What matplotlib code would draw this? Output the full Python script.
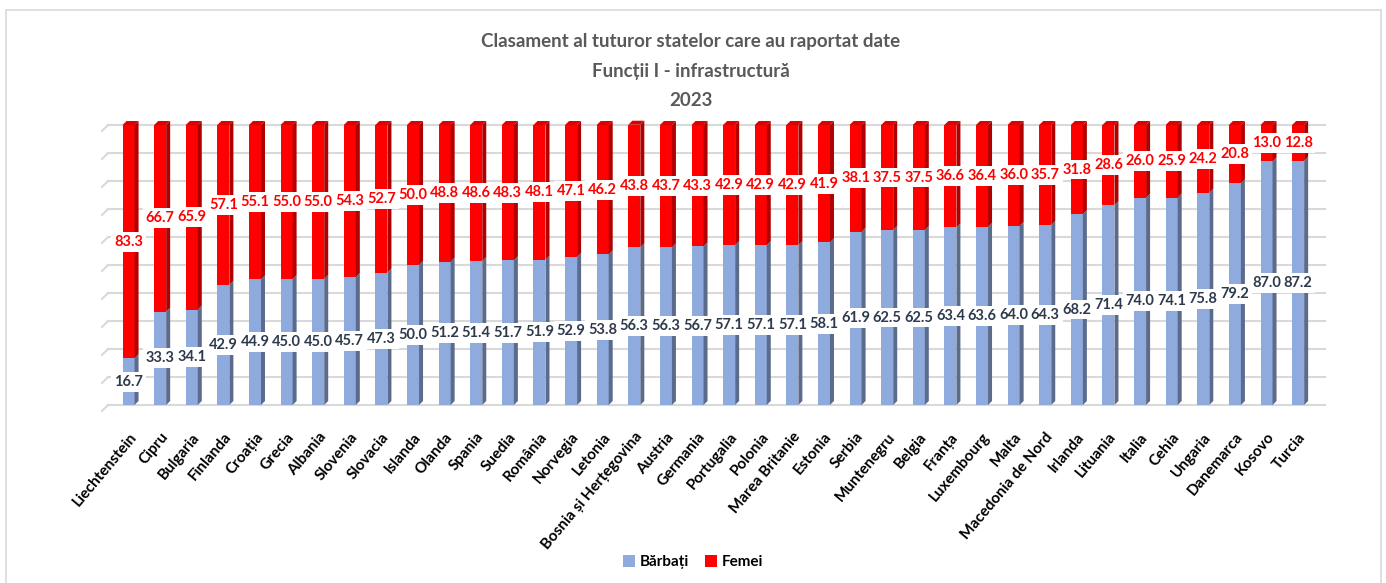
import numpy as np
import matplotlib
matplotlib.use("Agg")
import matplotlib.pyplot as plt
from matplotlib.patches import Polygon, Patch, Rectangle

plt.rcParams["font.family"] = ["Lato", "DejaVu Sans"]

countries = ["Liechtenstein", "Cipru", "Bulgaria", "Finlanda", "Croația", "Grecia", "Albania",
             "Slovenia", "Slovacia", "Islanda", "Olanda", "Spania", "Suedia", "România",
             "Norvegia", "Letonia", "Bosnia și Herțegovina", "Austria", "Germania", "Portugalia",
             "Polonia", "Marea Britanie", "Estonia", "Serbia", "Muntenegru", "Belgia", "Franța",
             "Luxembourg", "Malta", "Macedonia de Nord", "Irlanda", "Lituania", "Italia", "Cehia",
             "Ungaria", "Danemarca", "Kosovo", "Turcia"]
barbati = [16.7, 33.3, 34.1, 42.9, 44.9, 45.0, 45.0, 45.7, 47.3, 50.0,
           51.2, 51.4, 51.7, 51.9, 52.9, 53.8, 56.3, 56.3, 56.7, 57.1,
           57.1, 57.1, 58.1, 61.9, 62.5, 62.5, 63.4, 63.6, 64.0, 64.3,
           68.2, 71.4, 74.0, 74.1, 75.8, 79.2, 87.0, 87.2]
femei = [83.3, 66.7, 65.9, 57.1, 55.1, 55.0, 55.0, 54.3, 52.7, 50.0,
         48.8, 48.6, 48.3, 48.1, 47.1, 46.2, 43.8, 43.7, 43.3, 42.9,
         42.9, 42.9, 41.9, 38.1, 37.5, 37.5, 36.6, 36.4, 36.0, 35.7,
         31.8, 28.6, 26.0, 25.9, 24.2, 20.8, 13.0, 12.8]

BLUE, BLUE_SIDE = "#8faadc", "#5b6b8c"
RED, RED_SIDE, RED_TOP = "#ff0000", "#b00000", "#e00000"
NAVY = "#2e3a4c"
GRID = "#d9d9d9"

W, H = 1386, 583
fig = plt.figure(figsize=(W / 100, H / 100), dpi=100)
fig.patch.set_facecolor("white")
# chart border
fig.patches.append(Rectangle((6 / W, -0.01), (1381 - 6) / W, (583 - 10) / H + 0.01,
                             transform=fig.transFigure, fill=False, ec=GRID, lw=1.2))

ax_l, ax_r, ax_b, ax_t = 108, 1325, 405, 125
ax = fig.add_axes([ax_l / W, 1 - ax_b / H, (ax_r - ax_l) / W, (ax_b - ax_t) / H])
x = np.arange(len(countries))
ax.set_xlim(-0.65, 37.85)
ax.set_ylim(0, 100)
for s in ax.spines.values():
    s.set_visible(False)

# 3d-ish depth offsets (data units)
px_x = (37.85 + 0.65) / (ax_r - ax_l)
px_y = 100 / (ax_b - ax_t)
dx, dy = 4 * px_x, 4 * px_y
w = 0.38

# grid with slanted left stubs
for g in range(0, 101, 10):
    ax.plot([-0.65, 37.85], [g, g], color=GRID, lw=1.5, zorder=0, clip_on=False)
    ax.plot([-0.65, -0.65 - 6 * px_x], [g, g - 6 * px_y], color=GRID, lw=1.5,
            zorder=0, clip_on=False)

b = np.array(barbati)
f = np.array(femei)
ax.bar(x, b, width=w, color=BLUE, zorder=2, clip_on=False)
ax.bar(x, f, bottom=b, width=w, color=RED, zorder=2, clip_on=False)


def side(xc, lo, hi, col):
    r = xc + w / 2
    ax.add_patch(Polygon([(r, lo), (r + dx, lo + dy), (r + dx, hi + dy), (r, hi)],
                         closed=True, fc=col, ec="none", zorder=2, clip_on=False))


for i in x:
    side(i, 0, b[i], BLUE_SIDE)
    side(i, b[i], b[i] + f[i], RED_SIDE)
    t = b[i] + f[i]
    ax.add_patch(Polygon([(i - w / 2, t), (i + w / 2, t), (i + w / 2 + dx, t + dy),
                          (i - w / 2 + dx, t + dy)], closed=True, fc=RED_TOP, ec="none",
                         zorder=2, clip_on=False))
    ax.text(i, b[i] / 2, f"{b[i]:.1f}", ha="center", va="center", fontsize=10.5,
            weight="bold", color=NAVY, zorder=5,
            bbox=dict(boxstyle="square,pad=0.2", fc="white", ec="none"))
    ax.text(i, b[i] + f[i] / 2, f"{f[i]:.1f}", ha="center", va="center", fontsize=10.5,
            weight="bold", color=RED, zorder=5,
            bbox=dict(boxstyle="square,pad=0.2", fc="white", ec="none"))

ax.set_yticks([])
ax.set_xticks(x)
ax.set_xticklabels(countries, rotation=50, ha="right", rotation_mode="anchor",
                   fontsize=11, weight="bold", color="black")
ax.tick_params(axis="x", length=0, pad=18)

title_lines = ["Clasament al tuturor statelor care au raportat date",
               "Funcții I - infrastructură", "2023"]
for k, line in enumerate(title_lines):
    fig.text(691 / W, 1 - (42 + 29.5 * k) / H, line, ha="center", va="center",
             fontsize=13.5, weight="bold", color="#595959")

handles = [Patch(fc=BLUE, ec="none", label="Bărbați"), Patch(fc=RED, ec="none", label="Femei")]
fig.legend(handles=handles, loc="center", bbox_to_anchor=(693 / W, 1 - 562 / H), ncol=2,
           frameon=False, handlelength=0.8, handleheight=0.8, handletextpad=0.3,
           columnspacing=1.0, prop=dict(size=11, weight="bold"))

fig.savefig("out.png", dpi=100, facecolor="white")
